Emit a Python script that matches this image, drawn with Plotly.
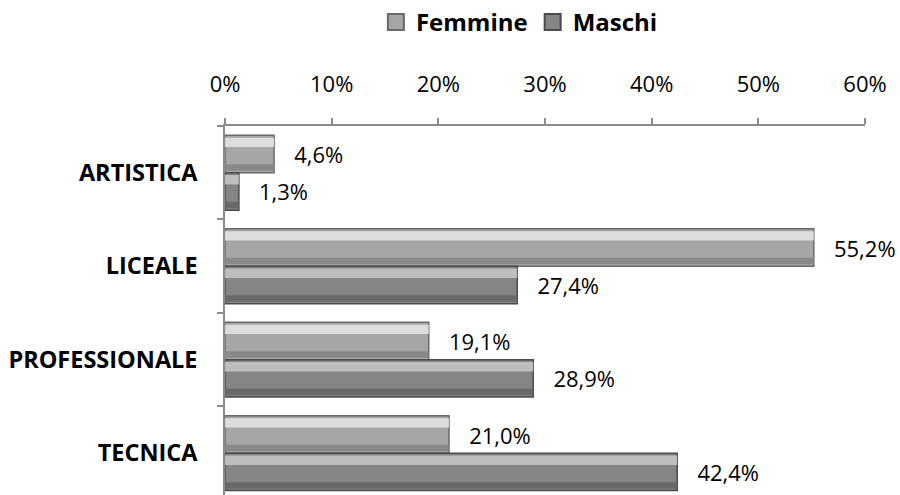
import plotly.graph_objects as go

categories = ["ARTISTICA", "LICEALE", "PROFESSIONALE", "TECNICA"]
femmine = [0.046, 0.552, 0.191, 0.210]
maschi = [0.013, 0.274, 0.289, 0.424]
series_names = ["Femmine", "Maschi"]
x_ticks = [0, 0.1, 0.2, 0.3, 0.4, 0.5, 0.6]

FONT = "Open Sans"
NB = "\u00a0\u00a0\u00a0"

fig = go.Figure()

styles = [
    # (values, name, offset, mid, edge, light, dark)
    (femmine, series_names[0], -0.4, "#a6a6a6", "#6a6a6a", "#e6e6e6", "#858585"),
    (maschi, series_names[1], 0.0, "#858585", "#4a4a4a", "#c8c8c8", "#666666"),
]

for vals, name, off, mid, edge, light, dark in styles:
    fig.add_trace(go.Bar(
        y=categories, x=vals, orientation="h", name=name, showlegend=False,
        offset=off, width=0.4,
        marker=dict(color=mid, line=dict(color=edge, width=1.5)),
        texttemplate=NB + "%{x:.1%}", textposition="outside",
        textfont=dict(family=FONT, size=22, color="#000000"),
        cliponaxis=False, constraintext="none",
        hoverinfo="x+name",
    ))
    # top highlight strip
    fig.add_trace(go.Bar(
        y=categories, x=vals, orientation="h", showlegend=False,
        offset=off + 0.025, width=0.1,
        marker=dict(color=light, opacity=0.85, line=dict(width=0)),
        hoverinfo="skip",
    ))
    # bottom shadow strip
    fig.add_trace(go.Bar(
        y=categories, x=vals, orientation="h", showlegend=False,
        offset=off + 0.31, width=0.07,
        marker=dict(color=dark, opacity=0.9, line=dict(width=0)),
        hoverinfo="skip",
    ))

# legend entries (square markers)
for vals, name, off, mid, edge, light, dark in styles:
    fig.add_trace(go.Scatter(
        x=[None], y=[None], mode="markers", name=name,
        marker=dict(symbol="square", size=16, color=mid,
                    line=dict(color=edge, width=2)),
        showlegend=True, hoverinfo="skip",
    ))

fig.update_layout(
    width=900, height=495,
    margin=dict(l=225, r=35, t=126, b=0),
    barmode="overlay",
    separators=",.",
    plot_bgcolor="white", paper_bgcolor="white",
    font=dict(family=FONT, size=22, color="#000000"),
    showlegend=True,
    legend=dict(
        orientation="h", xref="paper", yref="container",
        x=0.46, xanchor="center", y=0.955, yanchor="middle",
        font=dict(family=FONT, size=24, color="#000000", weight="bold"),
        itemwidth=30, traceorder="normal",
    ),
    xaxis=dict(
        side="top", range=[0, 0.6], tickvals=x_ticks, tickformat=".0%",
        showgrid=False, zeroline=False, showline=True,
        linecolor="#8c8c8c", linewidth=1.5,
        ticks="outside", ticklen=6, tickcolor="#8c8c8c", tickwidth=1.5,
        ticklabelstandoff=17,
        tickfont=dict(family=FONT, size=22, color="#000000"),
    ),
    yaxis=dict(
        type="category", categoryorder="array", categoryarray=categories,
        range=[3.447, -0.5],
        showgrid=False, zeroline=False, showline=True,
        linecolor="#8c8c8c", linewidth=1.5,
        ticks="outside", ticklen=6, tickcolor="#8c8c8c", tickwidth=1.5,
        tickson="boundaries", ticklabelstandoff=21,
        tickfont=dict(family=FONT, size=23.5, color="#000000", weight="bold"),
    ),
)

fig.write_html("out.html", config={"displayModeBar": False},
               post_script="document.body.style.margin='0';")
